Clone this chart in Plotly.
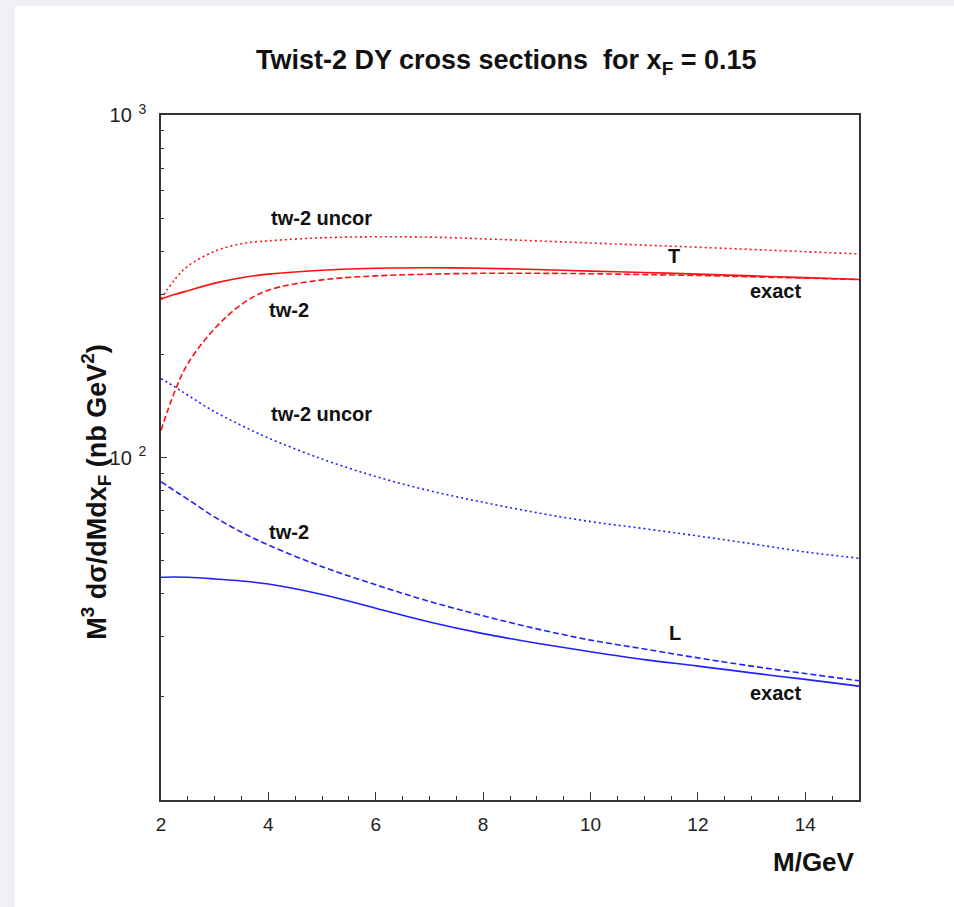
import numpy as np
import plotly.graph_objects as go

# ---- data ----
M = [2, 2.25, 2.5, 3, 3.5, 4, 5, 6, 7, 8, 9, 10, 11, 12, 13, 14, 15]

T_uncor = [290, 330, 362, 400, 421, 429, 438, 441, 440, 435, 429, 423, 417, 411, 405, 399, 393]
T_exact = [290, 299, 307, 323, 335, 343, 352, 357, 358, 357, 354, 350, 347, 343, 339, 335, 331]
T_tw2   = [120, 155, 188, 238, 280, 308, 330, 339, 343, 345, 345, 344, 342, 340, 337, 334, 331]

L_uncor = [170, 161, 152, 136, 124, 114, 99, 88, 80, 74, 69, 65, 62, 59, 56, 53, 50.8]
L_tw2   = [85, 80, 75.5, 67, 60.5, 55.5, 48, 42.5, 38, 34.5, 31.6, 29.3, 27.6, 26.0, 24.6, 23.4, 22.3]
L_exact = [44.7, 44.8, 44.7, 44.2, 43.6, 42.7, 39.8, 36.3, 33.1, 30.6, 28.7, 27.1, 25.7, 24.6, 23.5, 22.5, 21.5]

x_ticks = [2, 4, 6, 8, 10, 12, 14]
y_ticks = [100, 1000]
y_ticktext = ["10<sup>\u2009 2</sup>", "10<sup>\u2009 3</sup>"]
y_minor = [20, 30, 40, 50, 60, 70, 80, 90, 200, 300, 400, 500, 600, 700, 800, 900]

labels = [
    ("tw-2 uncor", 4.99, 500),
    ("tw-2", 4.39, 269),
    ("T", 11.55, 387),
    ("exact", 13.45, 307),
    ("tw-2 uncor", 4.99, 134),
    ("tw-2", 4.39, 60.4),
    ("L", 11.57, 30.8),
    ("exact", 13.45, 20.6),
]

RED = "#ff1010"
BLUE = "#2020ff"
FONT = "Liberation Sans, Arial, sans-serif"
NARROW = "Liberation Sans Narrow, Arial Narrow, Liberation Sans, Arial"

fig = go.Figure()

def add(y, color, dash):
    fig.add_trace(go.Scatter(x=M, y=y, mode="lines", line_shape="spline",
                             line=dict(color=color, width=1.6, dash=dash),
                             showlegend=False, hoverinfo="skip"))

add(T_uncor, RED, "2px,3px")
add(T_tw2, RED, "6px,3px")
add(T_exact, RED, "solid")
add(L_uncor, BLUE, "2px,3px")
add(L_tw2, BLUE, "6px,3px")
add(L_exact, BLUE, "solid")

for text, lx, ly in labels:
    fig.add_annotation(x=lx, y=np.log10(ly), text="<b>%s</b>" % text, showarrow=False,
                       font=dict(family=FONT, size=20, color="#111"))

# title
fig.add_annotation(xref="paper", yref="paper", x=0.495, y=1.0, yanchor="middle", yshift=53,
                   text="<b>Twist-2 DY cross sections\u00a0\u00a0for x<sub>F</sub> = 0.15</b>",
                   showarrow=False, font=dict(family=FONT, size=27, color="#111"))
# y title
fig.add_annotation(xref="paper", yref="paper", x=0, xanchor="center", xshift=-65, y=0.45,
                   yanchor="middle", textangle=-90,
                   text="<b>M<sup>3</sup> d\u03c3/dMdx<sub>F</sub> (nb GeV<sup>2</sup>)</b>",
                   showarrow=False, font=dict(family=FONT, size=27, color="#111"))
# x title
fig.add_annotation(xref="paper", yref="paper", x=1.0, xanchor="right", xshift=-2, y=0,
                   yanchor="middle", yshift=-62,
                   text="<b>M/GeV</b>", showarrow=False, font=dict(family=FONT, size=26, color="#111"))

# grey border strips of the page
fig.add_shape(type="rect", xref="paper", yref="paper", x0=-161/698, x1=-146/698, y0=-1, y1=2,
              fillcolor="#eff1f6", line_width=0, layer="below")
fig.add_shape(type="rect", xref="paper", yref="paper", x0=-1, x1=2, y0=(800-6)/685, y1=800/685 + 0.2,
              fillcolor="#eff1f6", line_width=0, layer="below")

fig.update_xaxes(range=[2, 15], tickvals=x_ticks, ticks="inside", ticklen=8, tickwidth=1,
                 tickcolor="#333", showline=True, linecolor="#333", linewidth=1.5, mirror=True,
                 showgrid=False, zeroline=False, ticklabelstandoff=6,
                 tickfont=dict(family=NARROW, size=19, color="#222"),
                 minor=dict(dtick=0.5, ticks="inside", ticklen=4, tickcolor="#333", showgrid=False))
fig.update_yaxes(type="log", range=[1, 3], tickvals=y_ticks, ticktext=y_ticktext, ticks="inside",
                 ticklen=6, tickwidth=1, tickcolor="#333", showline=True, linecolor="#333", linewidth=1.5,
                 mirror=True, showgrid=False, zeroline=False, ticklabelstandoff=9,
                 tickfont=dict(family=NARROW, size=20, color="#222"),
                 minor=dict(tickvals=y_minor, ticks="inside", ticklen=3, tickcolor="#333", showgrid=False))

fig.update_layout(width=954, height=907, margin=dict(l=161, r=95, t=115, b=107),
                  paper_bgcolor="white", plot_bgcolor="white")

fig.write_html("out.html", config={"displayModeBar": False},
               post_script="document.body.style.margin='0';")
